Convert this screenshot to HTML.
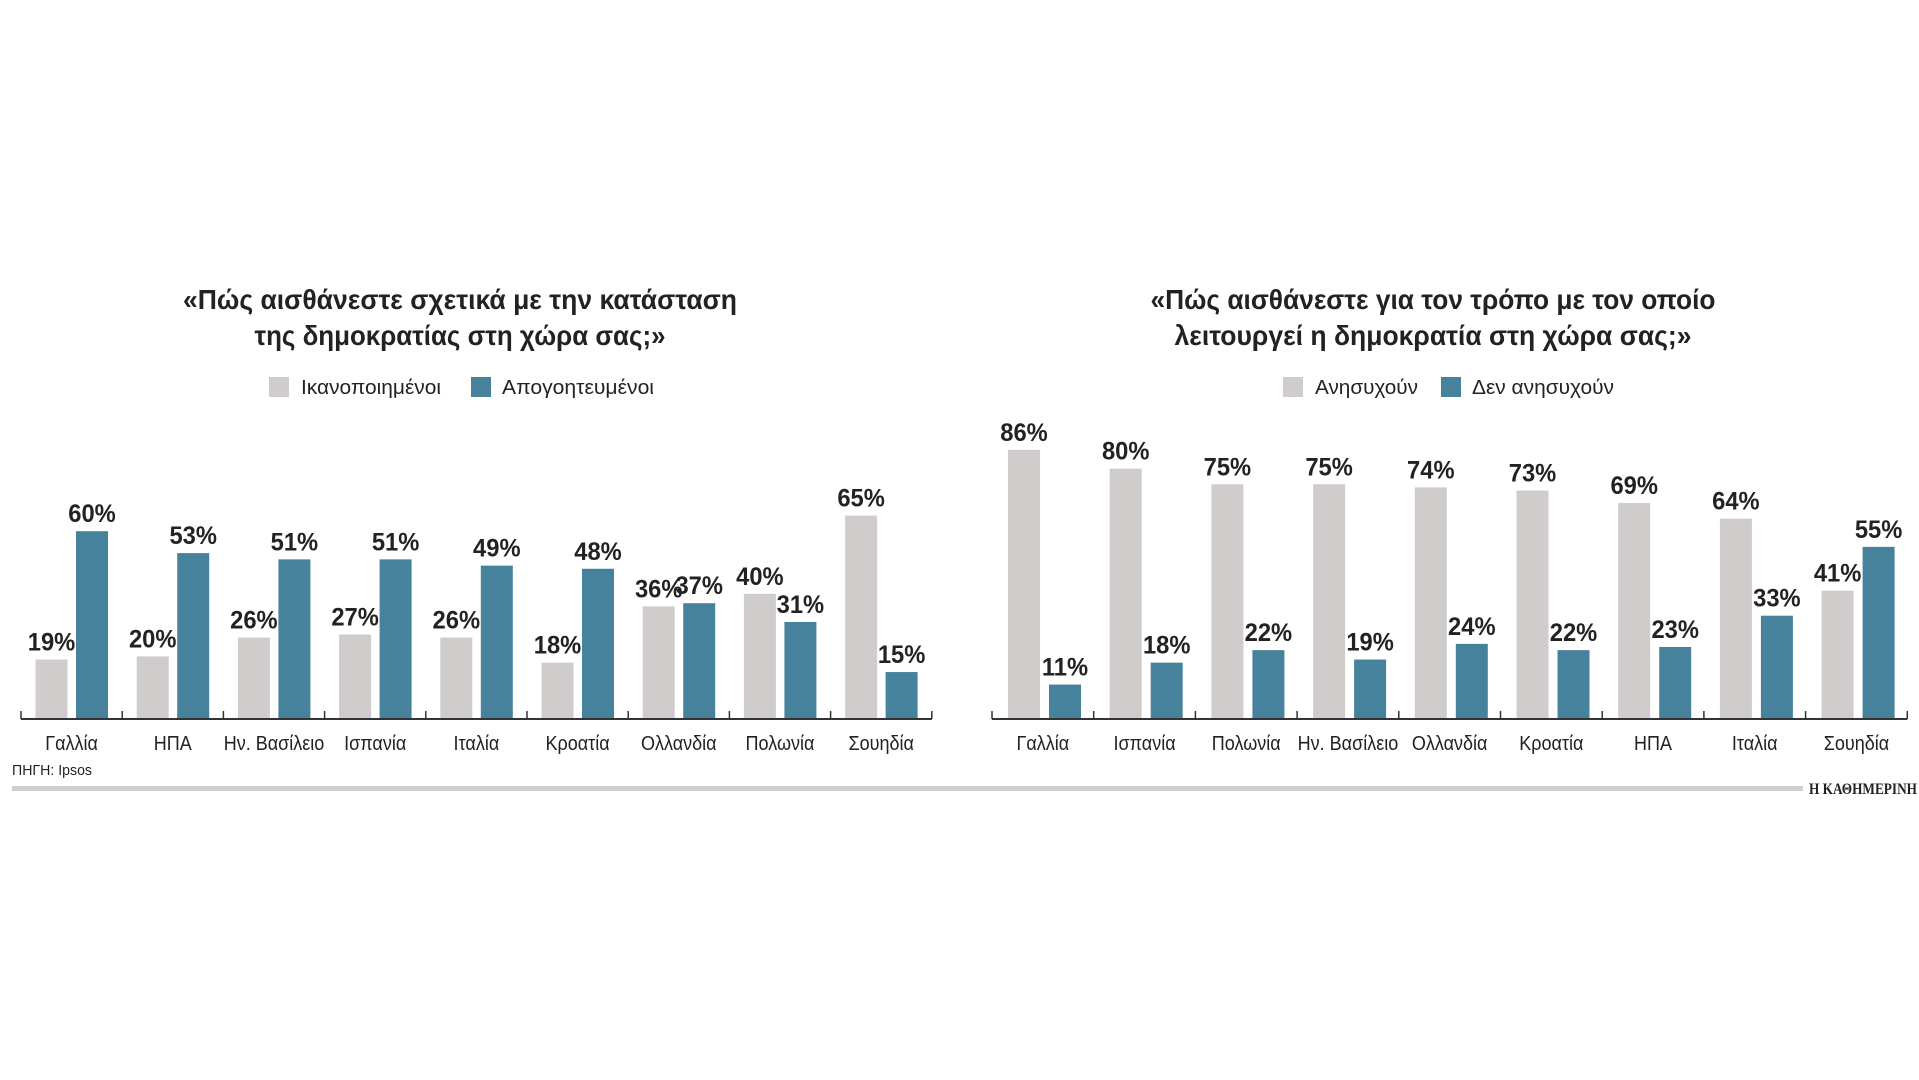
<!DOCTYPE html>
<html><head><meta charset="utf-8"><style>
html,body{margin:0;padding:0;background:#fff;}
svg{display:block;}
text{font-family:"Liberation Sans",sans-serif;fill:#222;}
</style></head><body>
<svg id="svg" width="1919" height="1080" viewBox="0 0 1919 1080">
<g id="c1"></g>
<g id="c2"></g>
<text x="12" y="775" font-size="15" id="src">ΠΗΓΗ: Ipsos</text>
<rect x="12" y="786" width="1791" height="5" fill="#d0cece"></rect>
<text x="1809" y="794" font-size="16" font-weight="bold" style="font-family:'Liberation Serif',serif" textLength="108" lengthAdjust="spacingAndGlyphs">Η ΚΑΘΗΜΕΡΙΝΗ</text>
</svg>
<script>
const cats1=["Γαλλία","ΗΠΑ","Hν. Βασίλειο","Ισπανία","Ιταλία","Κροατία","Ολλανδία","Πολωνία","Σουηδία"];
const gray1=[19,20,26,27,26,18,36,40,65];
const blue1=[60,53,51,51,49,48,37,31,15];
const cats2=["Γαλλία","Ισπανία","Πολωνία","Hν. Βασίλειο","Ολλανδία","Κροατία","ΗΠΑ","Ιταλία","Σουηδία"];
const gray2=[86,80,75,75,74,73,69,64,41];
const blue2=[11,18,22,19,24,22,23,33,55];
const legend1=["Ικανοποιημένοι","Απογοητευμένοι"];
const legend2=["Ανησυχούν","Δεν ανησυχούν"];

const NS="http://www.w3.org/2000/svg";
const GRAY="#cfcccb", BLUE="#46829b";
function mk(parent,tag,attrs){const e=document.createElementNS(NS,tag);for(const k in attrs)e.setAttribute(k,attrs[k]);parent.appendChild(e);return e;}
function txt(parent,x,y,s,size,weight,anchor,squeeze){
  const t=mk(parent,"text",{x:x,y:y,"font-size":size,"font-weight":weight,"text-anchor":anchor});
  t.textContent=s;
  const w=t.getComputedTextLength();
  if(w>0){t.setAttribute("textLength",(w*squeeze).toFixed(1));t.setAttribute("lengthAdjust","spacingAndGlyphs");}
  return t;
}
function chart(g,o){
  const base=719, k=3.13;
  const y=v=>base-v*k;
  const gx=i=>o.x0+i*o.step;
  o.title.forEach((line,i)=>{
    const t=txt(g,o.cx,309+i*36,line,28,"bold","middle",1);
    t.setAttribute("textLength",o.tw[i]);t.setAttribute("lengthAdjust","spacingAndGlyphs");
    
    
  });
  o.leg.forEach((L,i)=>{
    const r=mk(g,"rect",{x:L.sx,y:377,width:20,height:20,fill:i?BLUE:GRAY});
    
    
    const t=txt(g,L.tx,394,o.legend[i],20,"normal","start",1);
    t.setAttribute("textLength",L.tw);t.setAttribute("lengthAdjust","spacingAndGlyphs");
    
    
  });
  o.cats.forEach((c,i)=>{
    [[o.gray[i],o.go,GRAY],[o.blue[i],o.bo,BLUE]].forEach(([v,off,col],j)=>{
      const bx=gx(i)+off;
      const r=mk(g,"rect",{x:bx,y:y(v),width:32,height:v*k,fill:col});
      
      
      const t=txt(g,bx+16,y(v)-9,v+"%",25,"bold","middle",0.95);
      
      
    });
    const t=txt(g,gx(i)+o.step/2,750,c,20,"normal","middle",0.9);
    
    
  });
  const ax=mk(g,"line",{x1:o.x0,y1:base,x2:gx(o.cats.length),y2:base,stroke:"#333","stroke-width":2});
  
  
  for(let i=0;i<=o.cats.length;i++){
    const tk=mk(g,"line",{x1:gx(i),y1:base-8,x2:gx(i),y2:base,stroke:"#333","stroke-width":1.5});
    
    
  }
}
chart(document.getElementById("c1"),{x0:21,step:101.2,go:14.5,bo:55,cats:cats1,gray:gray1,blue:blue1,legend:legend1,
  cx:460,title:["«Πώς αισθάνεστε σχετικά με την κατάσταση","της δημοκρατίας στη χώρα σας;»"],tw:[554,411],
  leg:[{sx:269,tx:301,tw:140},{sx:471,tx:502,tw:152}]});
chart(document.getElementById("c2"),{x0:992,step:101.7,go:16,bo:57,cats:cats2,gray:gray2,blue:blue2,legend:legend2,
  cx:1433,title:["«Πώς αισθάνεστε για τον τρόπο με τον οποίο","λειτουργεί η δημοκρατία στη χώρα σας;»"],tw:[565,517],
  leg:[{sx:1283,tx:1315,tw:103},{sx:1441,tx:1472,tw:142}]});
const s=document.getElementById("src");s.setAttribute("textLength","80");s.setAttribute("lengthAdjust","spacingAndGlyphs");
</script>
</body></html>
